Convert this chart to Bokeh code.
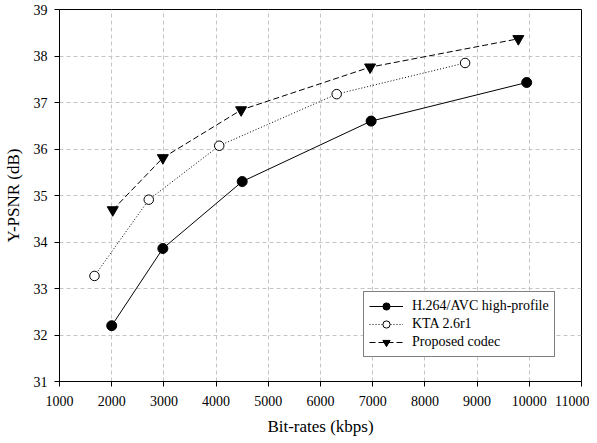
from bokeh.plotting import figure
from bokeh.models import FixedTicker, Legend, LegendItem, Range1d
from bokeh.embed import file_html
from bokeh.resources import INLINE

# Data
h264_rate = [2000, 2980, 4500, 6970, 9950]
h264_psnr = [32.20, 33.86, 35.30, 36.60, 37.43]
kta_rate = [1670, 2710, 4060, 6310, 8770]
kta_psnr = [33.27, 34.91, 36.07, 37.18, 37.85]
prop_rate = [2020, 2980, 4480, 6950, 9790]
prop_psnr = [34.69, 35.81, 36.84, 37.76, 38.37]
x_ticks = list(range(1000, 11001, 1000))
y_ticks = list(range(31, 40))

FONT = "'Liberation Serif', 'Times New Roman', serif"

p = figure(width=589, height=438, output_backend="svg", toolbar_location=None,
           x_range=Range1d(1000, 11000), y_range=Range1d(31, 39),
           min_border_left=50, min_border_right=8, min_border_top=9, min_border_bottom=52)

p.outline_line_color = "black"
p.outline_line_width = 1
p.background_fill_color = "white"

for ax in (p.xaxis[0], p.yaxis[0]):
    ax.axis_line_color = "black"
    ax.major_tick_line_color = "black"
    ax.minor_tick_line_color = None
    ax.major_tick_out = 5
    ax.major_tick_in = 0
    ax.major_label_text_font = FONT
    ax.major_label_text_font_size = "14px"
    ax.major_label_text_color = "black"
    ax.axis_label_text_font = FONT
    ax.axis_label_text_font_size = "17px"
    ax.axis_label_text_font_style = "normal"
    ax.axis_label_text_color = "black"
    ax.major_label_standoff = 7

p.xaxis[0].ticker = FixedTicker(ticks=x_ticks)
p.yaxis[0].ticker = FixedTicker(ticks=y_ticks)
p.xaxis[0].axis_label = "Bit-rates (kbps)"
p.yaxis[0].axis_label = "Y-PSNR (dB)"
p.xaxis[0].major_label_standoff = 9
p.xaxis[0].axis_label_standoff = 8
p.yaxis[0].axis_label_standoff = 8

for g in (p.xgrid[0], p.ygrid[0]):
    g.grid_line_color = "#c4c4c4"
    g.grid_line_dash = "4 3"
    g.grid_line_width = 1

l1 = p.line(h264_rate, h264_psnr, line_color="black", line_width=1)
m1 = p.scatter(h264_rate, h264_psnr, marker="circle", size=10, fill_color="black", line_color="black")
l2 = p.line(kta_rate, kta_psnr, line_color="black", line_width=1, line_dash="1 2")
m2 = p.scatter(kta_rate, kta_psnr, marker="circle", size=9.5, fill_color="white", line_color="black", line_width=1)
l3 = p.line(prop_rate, prop_psnr, line_color="black", line_width=1, line_dash="6 3")
m3 = p.scatter(prop_rate, prop_psnr, marker="inverted_triangle", size=11, fill_color="black", line_color="black")

legend = Legend(items=[
    LegendItem(label="H.264/AVC high-profile", renderers=[l1, m1]),
    LegendItem(label="KTA 2.6r1", renderers=[l2, m2]),
    LegendItem(label="Proposed codec", renderers=[l3, m3]),
], location=(304, 24))
legend.label_text_font = FONT
legend.label_text_font_size = "14px"
legend.label_text_color = "black"
legend.border_line_color = "black"
legend.border_line_width = 1
legend.background_fill_color = "white"
legend.background_fill_alpha = 1
legend.glyph_width = 34
legend.glyph_height = 18
legend.label_height = 18
legend.label_standoff = 9
legend.spacing = 0
legend.padding = 5
legend.margin = 0
p.add_layout(legend, "center")

open("out.html", "w").write(file_html(p, INLINE))
